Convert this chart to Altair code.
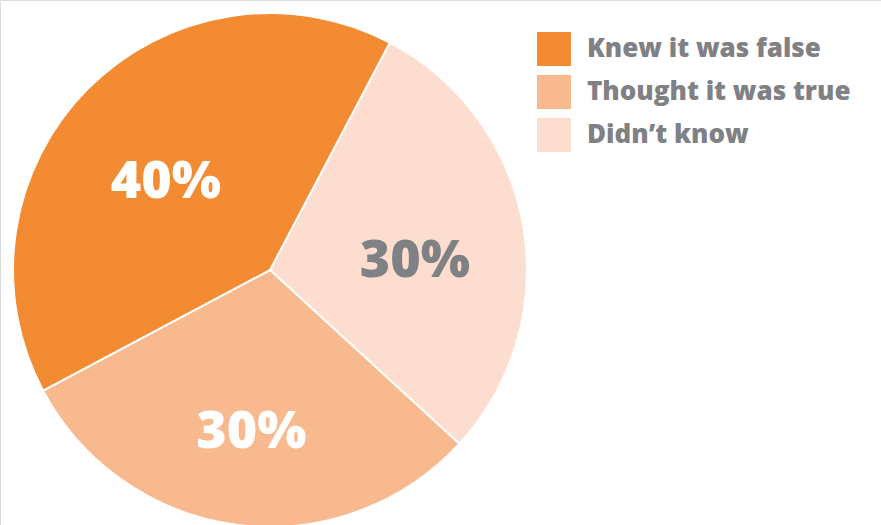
import altair as alt
import pandas as pd

categories = ["Didn’t know", "Thought it was true", "Knew it was false"]
values = [29.1, 30.4, 40.5]
labels = ["30%", "30%", "40%"]
legend_order = ["Knew it was false", "Thought it was true", "Didn’t know"]
colors = ["#F38B32", "#F8B98E", "#FDDDD0"]

df = pd.DataFrame({"category": categories, "value": values, "label": labels, "order": [0, 1, 2]})

start = 0.485
two_pi = 6.283185307

base = alt.Chart(df).encode(
    theta=alt.Theta("value:Q", stack=True, scale=alt.Scale(range=[start, start + two_pi])),
    order=alt.Order("order:Q"),
)

pie = base.mark_arc(outerRadius=257, stroke="white", strokeWidth=2).encode(
    x=alt.value(270),
    y=alt.value(270),
    color=alt.Color(
        "category:N",
        scale=alt.Scale(domain=legend_order, range=colors),
        legend=alt.Legend(
            title=None,
            orient="none",
            legendX=537,
            legendY=32,
            symbolType="square",
            symbolSize=1156,
            symbolStrokeWidth=0,
            symbolOpacity=1,
            labelFont="Open Sans",
            labelFontWeight=800,
            labelFontSize=26,
            labelColor="#808184",
            labelOffset=16,
            rowPadding=9,
            labelLimit=400,
        ),
    ),
)

text = base.mark_text(
    radius=147, dy=16, font="Open Sans", fontWeight=800, fontSize=52, align="center", baseline="middle"
).encode(
    x=alt.value(270),
    y=alt.value(270),
    text="label:N",
    color=alt.condition(alt.datum.category == "Didn’t know", alt.value("#808184"), alt.value("white")),
)

chart = (
    alt.layer(pie, text)
    .properties(width=881, height=525, autosize=alt.AutoSizeParams(type="none"), padding=0)
    .configure_view(stroke=None)
    .configure(background="white")
)

chart.save("out.html", embed_options={"renderer": "svg", "actions": False})
